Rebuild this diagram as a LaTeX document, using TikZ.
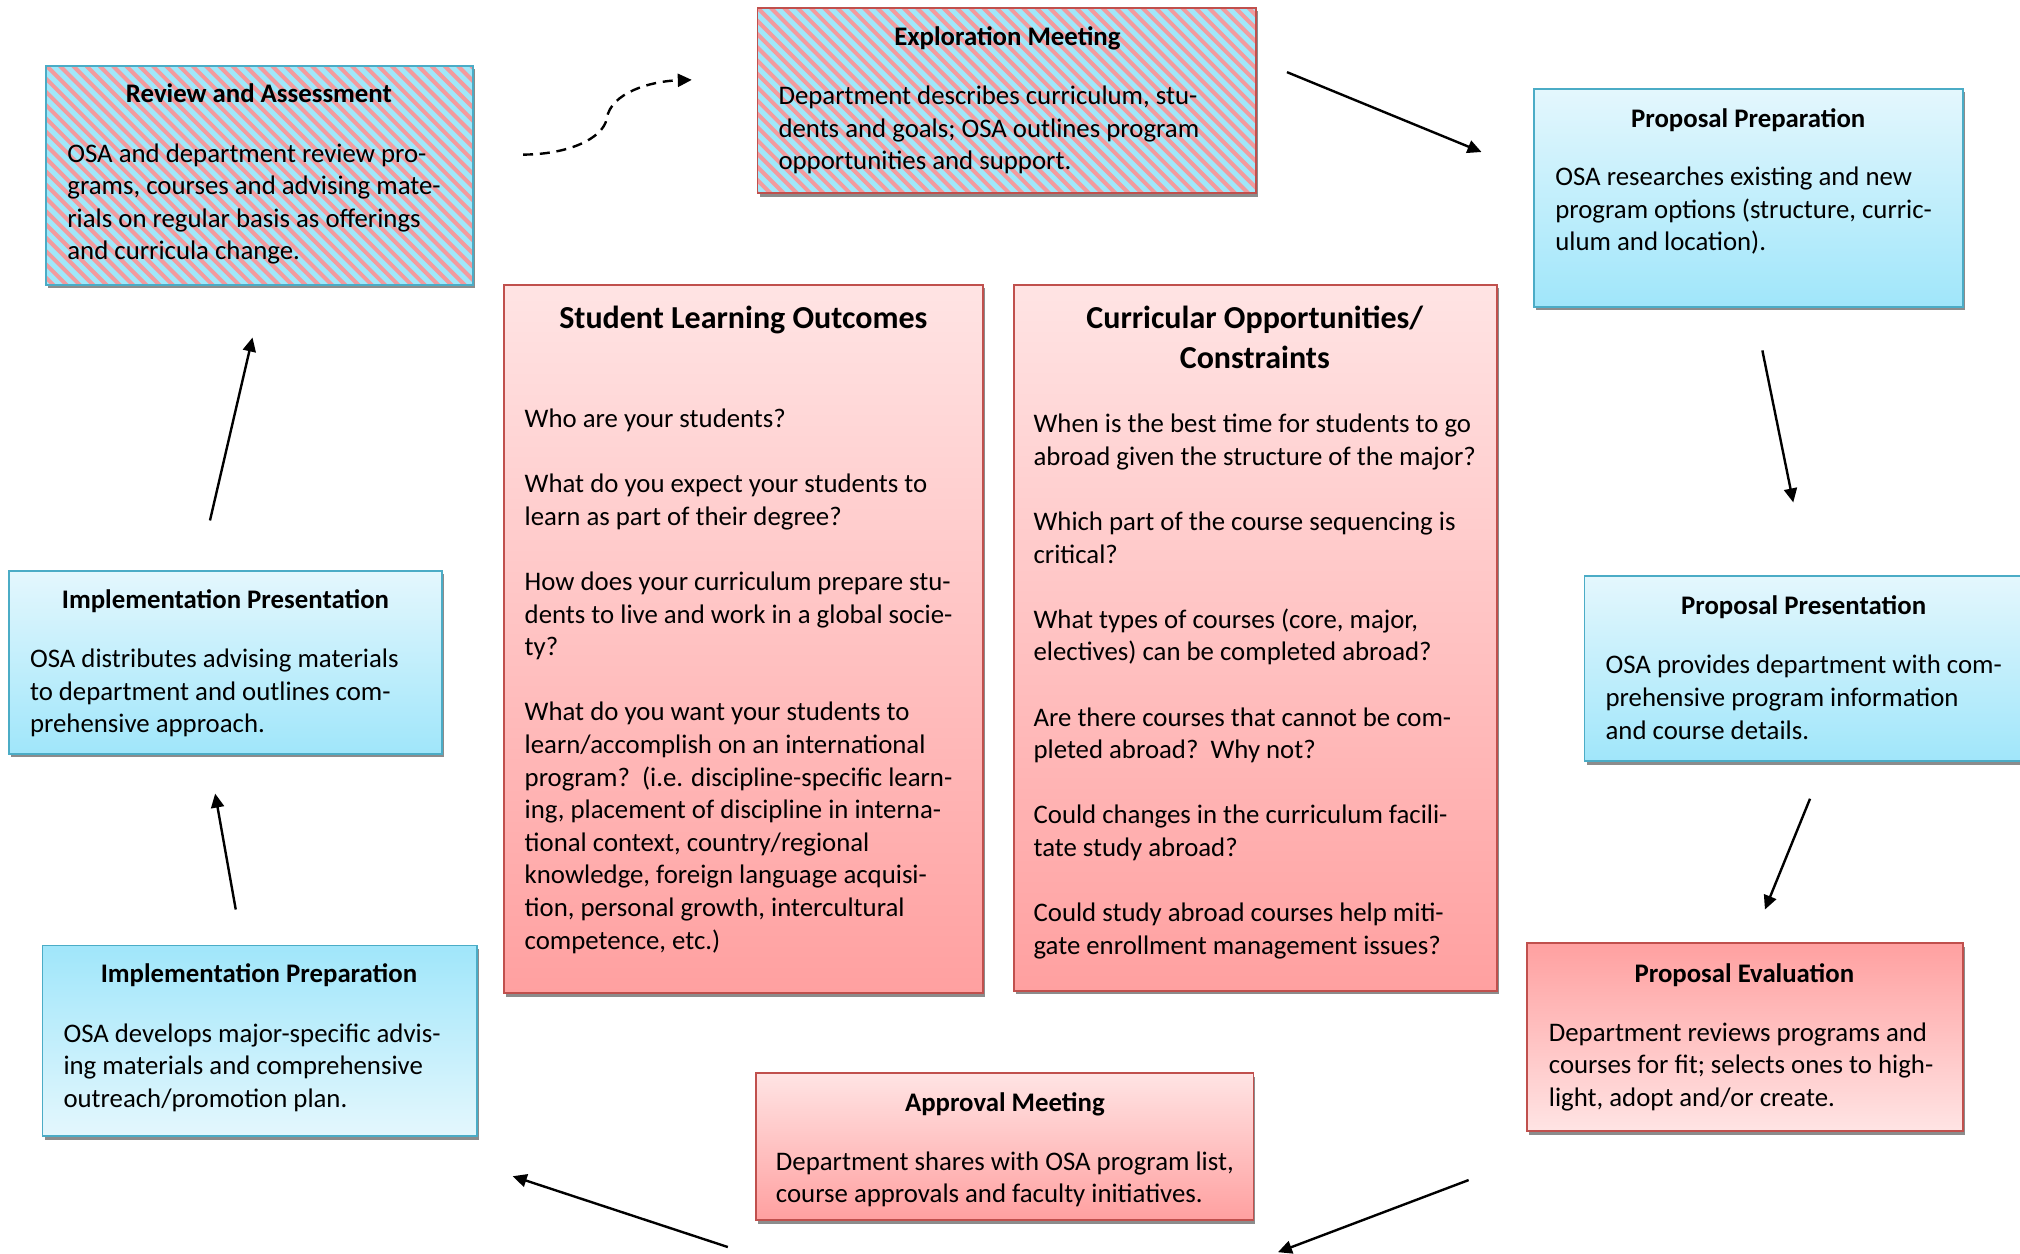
\documentclass[tikz,border=0pt]{standalone}
\usepackage{fontspec}
\setmainfont{Carlito}
\usetikzlibrary{calc,shadows,arrows.meta}
\definecolor{bluefill}{RGB}{160,230,250}
\definecolor{bluelight}{RGB}{228,247,253}
\definecolor{blueline}{RGB}{75,172,198}
\definecolor{redfill}{RGB}{255,160,160}
\definecolor{redlight}{RGB}{255,228,228}
\definecolor{redline}{RGB}{192,80,77}
\definecolor{hatchblue}{RGB}{160,232,250}
\definecolor{hatchpink}{RGB}{242,155,158}
\def\u{0.64413pt}
\newcommand\mkbox[6]{\node[#1, minimum width={(#4-#2)*\u}, minimum height={(#5-#3)*\u}] (#6) at ({(#2+#4)/2},{(#3+#5)/2}) {};}
\tikzset{
 box/.style={draw, line width=0.9pt, rectangle, inner sep=0pt,
   drop shadow={shadow xshift=1pt, shadow yshift=-1.8pt, fill=black!45, opacity=1}},
 bluebox/.style={box, draw=blueline},
 redbox/.style={box, draw=redline},
 bluedown/.style={bluebox, top color=bluelight, bottom color=bluefill},
 blueup/.style={bluebox, top color=bluefill, bottom color=bluelight},
 reddown/.style={redbox, top color=redlight, bottom color=redfill},
 redup/.style={redbox, top color=redfill, bottom color=redlight},
 hatch/.style={fill=hatchblue, path picture={
   \foreach \k in {-25,...,45}{\draw[hatchpink, line width=2pt]
     ($(path picture bounding box.north west)+(\k*10.3,0)$) -- ++(260,260);}}},
 ttl/.style={font=\fontsize{13.4}{16.3}\selectfont\bfseries, anchor=mid, inner sep=0pt},
 bigttl/.style={font=\fontsize{16}{20}\selectfont\bfseries, anchor=mid, inner sep=0pt, align=center},
 body/.style={align=left, anchor=mid west, inner sep=0pt, font=\fontsize{13.4}{16.3}\selectfont},
 arr/.style={line width=1.2pt, -{Triangle[length=7pt, width=6.5pt]}},
}
\begin{document}
\begin{tikzpicture}[x=0.64413pt, y=-0.64413pt]
\useasboundingbox (0,0) rectangle (1568,973);
% boxes
\mkbox{bluebox,hatch}{36}{51}{367}{221}{rev}
\mkbox{redbox,hatch}{588}{6}{975}{150}{exp}
\mkbox{bluedown}{1191}{69}{1524}{238}{pprep}
\mkbox{bluedown}{1230}{447}{1580}{591}{ppres}
\mkbox{redup}{1185}{732}{1524}{878}{peval}
\mkbox{reddown}{587}{833}{973}{947}{appr}
\mkbox{blueup}{33}{734}{370}{882}{iprep}
\mkbox{bluedown}{7}{443}{343}{585}{ipres}
\mkbox{reddown}{391}{221}{763}{771}{slo}
\mkbox{reddown}{787}{221}{1162}{769}{cur}
% texts (body nodes anchored at the middle of their last line)
\node[ttl] (revt) at (201,76) {Review and Assessment};
\node[body] (revb) at (52,198) {OSA and department review pro-\\grams, courses and advising mate-\\rials on regular basis as offerings\\and curricula change.};
\node[ttl] (expt) at (782,32) {Exploration Meeting};
\node[body] (expb) at (604,128) {Department describes curriculum, stu-\\dents and goals; OSA outlines program\\opportunities and support.};
\node[ttl] (pprept) at (1357,95) {Proposal Preparation};
\node[body] (ppreb) at (1207,191) {OSA researches existing and new\\program options (structure, curric-\\ulum and location).};
\node[ttl] (ppresT) at (1400,473) {Proposal Presentation};
\node[body] (ppresb) at (1246,570) {OSA provides department with com-\\prehensive program information\\and course details.};
\node[ttl] (pevalt) at (1354,759) {Proposal Evaluation};
\node[body] (pevalb) at (1202,855) {Department reviews programs and\\courses for fit; selects ones to high-\\light, adopt and/or create.};
\node[ttl] (apprt) at (780,859) {Approval Meeting};
\node[body] (apprb) at (602,930) {Department shares with OSA program list,\\course approvals and faculty initiatives.};
\node[ttl] (iprept) at (201,759) {Implementation Preparation};
\node[body] (iprepb) at (49,856) {OSA develops major-specific advis-\\ing materials and comprehensive\\outreach/promotion plan.};
\node[ttl] (iprest) at (175,469) {Implementation Presentation};
\node[body] (ipresb) at (23,565) {OSA distributes advising materials\\to department and outlines com-\\prehensive approach.};
\node[bigttl] (slot) at (577,251) {Student Learning Outcomes};
\node[body] (slob) at (407,733) {Who are your students?\\[16.3pt]
What do you expect your students to\\learn as part of their degree?\\[16.3pt]
How does your curriculum prepare stu-\\dents to live and work in a global socie-\\ty?\\[16.3pt]
What do you want your students to\\learn/accomplish on an international\\program?\ \ (i.e. discipline-specific learn-\\ing, placement of discipline in interna-\\tional context, country/regional\\knowledge, foreign language acquisi-\\tion, personal growth, intercultural\\competence, etc.)};
\node[bigttl] (curt) at (974,282) {Curricular Opportunities/\\Constraints};
\node[body] (curb) at (802,737) {When is the best time for students to go\\abroad given the structure of the major?\\[16.3pt]
Which part of the course sequencing is\\critical?\\[16.3pt]
What types of courses (core, major,\\electives) can be completed abroad?\\[16.3pt]
Are there courses that cannot be com-\\pleted abroad?\ \ Why not?\\[16.3pt]
Could changes in the curriculum facili-\\tate study abroad?\\[16.3pt]
Could study abroad courses help miti-\\gate enrollment management issues?};
% arrows
\coordinate (d0) at (406,120);
\coordinate (d1) at (471,92);
\coordinate (d2) at (537,62);
\draw[arr, dashed, dash pattern=on 5pt off 3.4pt] (d0) .. controls (440,120) and (468,108) .. (d1) .. controls (474,72) and (505,63) .. (d2);
\coordinate (a1s) at (999,56);   \coordinate (a1e) at (1150,118);
\coordinate (a2s) at (1368,272); \coordinate (a2e) at (1392,390);
\coordinate (a3s) at (1405,620); \coordinate (a3e) at (1370,706);
\coordinate (a4s) at (1140,916); \coordinate (a4e) at (992,972);
\coordinate (a5s) at (565,968);  \coordinate (a5e) at (398,913);
\coordinate (a6s) at (183,706);  \coordinate (a6e) at (167,616);
\coordinate (a7s) at (163,404);  \coordinate (a7e) at (196,262);
\foreach \i in {1,...,7}{\draw[arr] (a\i s) -- (a\i e);}
\end{tikzpicture}
\end{document}
